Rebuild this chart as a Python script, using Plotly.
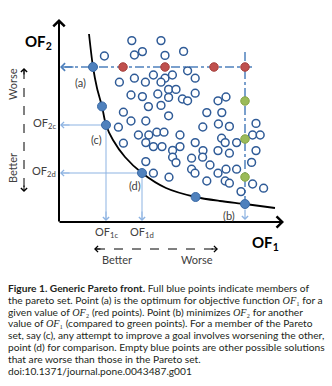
import plotly.graph_objects as go

# ---- data (objective space: OF1 horizontal, OF2 vertical) ----
# candidate solutions that are dominated (empty markers)
dominated_of1 = [3.64, 5.10, 2.27, 3.77, 4.17, 5.30, 6.23, 3.02, 3.77, 4.32, 4.72, 5.30, 5.10, 5.67,
                 5.48, 5.85, 3.60, 4.17, 4.94, 5.48, 6.17, 4.47, 5.10, 3.22, 3.60, 4.34, 5.48, 2.97,
                 6.43, 6.81, 6.81, 6.43, 8.35, 7.95, 7.39, 8.14, 7.19, 7.97, 8.52, 9.85, 3.97, 4.49,
                 4.89, 5.25, 6.05, 3.22, 4.34, 4.72, 5.15, 5.68, 5.68, 5.85, 4.34, 4.72, 5.50, 6.05,
                 6.81, 8.13, 8.31, 8.88, 9.68, 10.06, 9.85, 7.20, 6.63, 7.18, 7.95, 8.52, 7.55, 8.35,
                 8.88, 9.63, 6.63, 6.80, 7.95, 7.39, 8.31, 8.52, 9.10, 9.68, 10.23]
dominated_of2 = [9.07, 9.07, 8.30, 8.35, 8.52, 8.33, 8.53, 6.99, 7.19, 6.99, 7.35, 7.19, 6.99, 7.35,
                 6.63, 6.63, 6.35, 6.27, 6.40, 6.23, 6.15, 5.77, 5.83, 5.49, 5.05, 5.05, 5.31, 4.74,
                 7.56, 7.19, 6.44, 6.06, 6.25, 6.06, 5.47, 5.47, 4.75, 4.90, 4.78, 4.93, 4.35, 4.35,
                 4.49, 4.49, 4.35, 3.94, 3.97, 3.77, 3.77, 3.58, 3.24, 2.97, 3.02, 2.44, 2.24, 3.77,
                 3.97, 4.19, 3.97, 3.97, 4.35, 4.35, 3.57, 3.57, 3.19, 3.24, 3.57, 3.44, 2.85, 2.64,
                 2.64, 2.98, 2.64, 2.44, 2.44, 2.05, 2.05, 1.94, 1.52, 1.90, 1.69]

# members of the Pareto set (full markers): (a), -, (c), (d), -, (b)
pareto_of1 = [1.70, 2.15, 2.35, 4.15, 6.83, 9.30]
pareto_of2 = [7.75, 5.78, 4.85, 2.45, 1.25, 0.90]

# same OF2 as point (a)
red_of1 = [3.20, 5.30, 7.75, 9.30]
red_of2 = [7.75, 7.75, 7.75, 7.75]

# same OF1 as point (b)
green_of1 = [9.30, 9.30, 9.30]
green_of2 = [6.05, 4.15, 2.25]

# Pareto front curve
front_of1 = [1.50, 1.70, 1.90, 2.15, 2.35, 2.70, 3.30, 4.15, 5.35, 6.83, 8.05, 9.30, 10.80]
front_of2 = [9.40, 7.75, 6.70, 5.78, 4.85, 4.10, 3.25, 2.45, 1.70, 1.25, 1.05, 0.90, 0.70]

point_names = ["(a)", "(c)", "(d)", "(b)"]

caption_lines = [
    "<b>Figure 1. Generic Pareto front.</b> Full blue points indicate members of",
    "the pareto set. Point (a) is the optimum for objective function {of1} for a",
    "given value of {of2} (red points). Point (b) minimizes {of2} for another",
    "value of {of1} (compared to green points). For a member of the Pareto",
    "set, say (c), any attempt to improve a goal involves worsening the other,",
    "point (d) for comparison. Empty blue points are other possible solutions",
    "that are worse than those in the Pareto set.",
    "doi:10.1371/journal.pone.0043487.g001",
]

# ---- styling ----
BLUE = "#4f81bd"
DARK_BLUE = "#2f5b97"
LIGHT_BLUE = "#8db3e2"
RED = "#c0504d"
GREEN = "#9bbb59"
LABEL_FONT = "Lato, sans-serif"
CAPTION_FONT = "Lato, sans-serif"
W, H = 332, 386

fig = go.Figure()

fig.add_trace(go.Scatter(x=front_of1, y=front_of2, mode="lines",
                         line=dict(color="black", width=1.8, shape="spline", smoothing=0.8),
                         hoverinfo="skip"))
fig.add_trace(go.Scatter(x=dominated_of1, y=dominated_of2, mode="markers",
                         marker=dict(size=7.8, color="white", line=dict(color=DARK_BLUE, width=1.5))))
fig.add_trace(go.Scatter(x=red_of1, y=red_of2, mode="markers",
                         marker=dict(size=8.5, color=RED, line=dict(color="#a5403d", width=1))))
fig.add_trace(go.Scatter(x=green_of1, y=green_of2, mode="markers",
                         marker=dict(size=8.5, color=GREEN, line=dict(color="#86a447", width=1))))
fig.add_trace(go.Scatter(x=pareto_of1, y=pareto_of2, mode="markers",
                         marker=dict(size=9, color=BLUE, line=dict(color="#3a6aa6", width=1))))

a_x, a_y = pareto_of1[0], pareto_of2[0]
c_x, c_y = pareto_of1[2], pareto_of2[2]
d_x, d_y = pareto_of1[3], pareto_of2[3]
b_x, b_y = pareto_of1[5], pareto_of2[5]

shapes = [
    # dash-dot guide through (a) and through (b)
    dict(type="line", x0=9.65, x1=0.3, y0=a_y, y1=a_y,
         line=dict(color=BLUE, width=1.5, dash="dashdot"), layer="below"),
    dict(type="line", x0=b_x, x1=b_x, y0=8.5, y1=b_y,
         line=dict(color=BLUE, width=1.5, dash="dashdot"), layer="below"),
    # projections of (c) and (d) onto the axes
    dict(type="line", x0=c_x, x1=0.1, y0=c_y, y1=c_y, line=dict(color=LIGHT_BLUE, width=1), layer="below"),
    dict(type="line", x0=c_x, x1=c_x, y0=c_y, y1=0.15, line=dict(color=LIGHT_BLUE, width=1), layer="below"),
    dict(type="line", x0=d_x, x1=0.1, y0=d_y, y1=d_y, line=dict(color=LIGHT_BLUE, width=1), layer="below"),
    dict(type="line", x0=d_x, x1=d_x, y0=d_y, y1=0.15, line=dict(color=LIGHT_BLUE, width=1), layer="below"),
    # better / worse guides
    dict(type="line", x0=-1.75, x1=-1.75, y0=7.6, y1=1.6, line=dict(color="black", width=1, dash="dash")),
    dict(type="line", x0=1.85, x1=7.85, y0=-1.35, y1=-1.35, line=dict(color="black", width=1, dash="dash")),
]

ann = []


def arrow(x, y, ax, ay, color, width, head=4, size=1.0):
    ann.append(dict(x=x, y=y, ax=ax, ay=ay, xref="x", yref="y", axref="x", ayref="y",
                    text="", showarrow=True, arrowhead=head, arrowsize=size,
                    arrowwidth=width, arrowcolor=color))


# axes
arrow(0, 10.15, 0, -0.05, "black", 2, head=4, size=1.1)
arrow(11.25, 0, -0.05, 0, "black", 2, head=4, size=1.1)
# arrow heads of the guides
arrow(0.05, a_y, 0.8, a_y, BLUE, 1.5, head=4, size=1.0)
arrow(b_x, 0.1, b_x, b_y - 0.2, LIGHT_BLUE, 1.2, head=4, size=1.0)
arrow(0.05, c_y, 0.6, c_y, LIGHT_BLUE, 1, head=4, size=1.2)
arrow(c_x, 0.05, c_x, 0.6, LIGHT_BLUE, 1, head=4, size=1.2)
arrow(0.05, d_y, 0.6, d_y, LIGHT_BLUE, 1, head=4, size=1.2)
arrow(d_x, 0.05, d_x, 0.6, LIGHT_BLUE, 1, head=4, size=1.2)
arrow(-1.75, 7.7, -1.75, 7.3, "black", 1, head=4, size=1.2)
arrow(-1.75, 1.5, -1.75, 1.9, "black", 1, head=4, size=1.2)
arrow(1.75, -1.35, 2.15, -1.35, "black", 1, head=4, size=1.2)
arrow(7.95, -1.35, 7.55, -1.35, "black", 1, head=4, size=1.2)


def label(x, y, text, size=11, color="#404040", angle=0, xanchor="center", bold=False):
    ann.append(dict(x=x, y=y, xref="x", yref="y", text=f"<b>{text}</b>" if bold else text,
                    showarrow=False, textangle=angle, xanchor=xanchor, yanchor="middle",
                    font=dict(family=LABEL_FONT, size=size, color=color)))


label(1.05, 7.0, point_names[0])
label(1.85, 4.15, point_names[1])
label(3.80, 1.85, point_names[2])
label(8.50, 0.35, point_names[3])
label(-0.05, c_y + 0.1, "OF<sub>2c</sub>", xanchor="right")
label(-0.05, d_y + 0.1, "OF<sub>2d</sub>", xanchor="right")
label(c_x, -0.5, "OF<sub>1c</sub>")
label(d_x, -0.5, "OF<sub>1d</sub>")
label(-1.05, 9.0, "OF<sub>2</sub>", size=15, color="black", bold=True)
label(10.3, -1.05, "OF<sub>1</sub>", size=15, color="black", bold=True)
label(-2.35, 6.9, "Worse", angle=-90)
label(-2.35, 2.7, "Better", angle=-90)
label(2.9, -1.85, "Better")
label(6.9, -1.85, "Worse")

# objective names in the caption: serif italic with a subscript digit
of_math = '<span style="font-family:Liberation Serif"><i>OF</i>{}</span>'
for i, line in enumerate(caption_lines):
    txt = line.replace("{of1}", of_math.format("\u2081")).replace("{of2}", of_math.format("\u2082"))
    py = 288 + i * 11.8
    ann.append(dict(x=6 / W, y=1 - py / H, xref="paper", yref="paper", text=txt,
                    showarrow=False, xanchor="left", yanchor="middle", align="left",
                    font=dict(family=CAPTION_FONT, size=10.2, color="#231f20")))

fig.update_layout(
    width=W, height=H, margin=dict(l=0, r=0, t=0, b=0),
    paper_bgcolor="white", plot_bgcolor="white", showlegend=False,
    xaxis=dict(range=[-2.95, 13.65], visible=False, fixedrange=True),
    yaxis=dict(range=[-8.2, 11.1], visible=False, fixedrange=True),
    shapes=shapes, annotations=ann,
)

fig.write_html("out.html")
